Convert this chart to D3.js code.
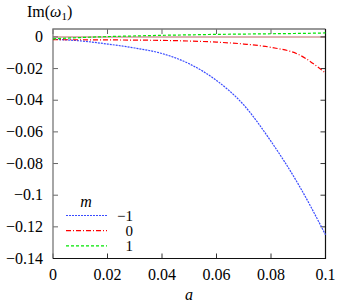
<!DOCTYPE html>
<html>
<head>
<meta charset="utf-8">
<script src="https://cdn.jsdelivr.net/npm/d3@7"></script>
<style>
  body { margin: 0; background: #fff; }
</style>
</head>
<body>
<div id="viz-body"></div>
<script>
// values
var aValues = [0, 0.01, 0.02, 0.03, 0.04, 0.05, 0.06, 0.07, 0.08, 0.09, 0.1];
var imMinus1 = [-0.0015, -0.0025, -0.0045, -0.007, -0.0105, -0.017, -0.0275, -0.043, -0.066, -0.093, -0.125];
var imZero = [-0.0018, -0.0018, -0.0019, -0.002, -0.0022, -0.0026, -0.0033, -0.0045, -0.0066, -0.011, -0.0228];
var imPlus1 = [-0.0012, -0.0004, 0.0002, 0.0006, 0.001, 0.0013, 0.0016, 0.0018, 0.002, 0.0022, 0.0025];
var mLabels = ["\u22121", "0", "1"];
var xTicks = [0, 0.02, 0.04, 0.06, 0.08, 0.1];
var yTicks = [0, -0.02, -0.04, -0.06, -0.08, -0.1, -0.12, -0.14];

var W = 341, H = 303;
var margin = { top: 29, right: 15.5, bottom: 44.5, left: 53 },
    width = W - margin.left - margin.right,
    height = H - margin.top - margin.bottom,
    colors = ["#3a4cff", "#ff0000", "#00e600"],
    dashes = ["2,1", "5,2,1,2", "3,2"],
    serif = "'Liberation Serif', 'Times New Roman', 'DejaVu Serif', serif";

const svg = d3.select("#viz-body").append("svg")
    .attr("width", W)
    .attr("height", H)
    .attr("font-family", serif)
    .style("font-family", serif);

const g = svg.append("g")
    .attr("transform", "translate(" + margin.left + "," + margin.top + ")");

const x = d3.scaleLinear().domain([0, 0.1]).range([0, width]);
const y = d3.scaleLinear().domain([-0.14, 0.005]).range([height, 0]);

var fmt = function(v) {
    if (v === 0) return "0";
    return (v < 0 ? "\u2212" : "") + String(+Math.abs(v).toFixed(2));
};

// zero line
g.append("line")
    .attr("x1", 0).attr("x2", width)
    .attr("y1", y(0)).attr("y2", y(0))
    .attr("stroke", "#d29a9a")
    .attr("stroke-width", 1.5);

// ticks, mirrored on all sides
var tl = 5;
xTicks.forEach(function(v) {
    g.append("line").attr("x1", x(v)).attr("x2", x(v)).attr("y1", height).attr("y2", height - tl)
        .attr("stroke", "#333");
    g.append("line").attr("x1", x(v)).attr("x2", x(v)).attr("y1", 0).attr("y2", tl)
        .attr("stroke", "#666");
    g.append("text").attr("x", x(v)).attr("y", height + 21)
        .attr("text-anchor", "middle").style("font-size", "16px").text(fmt(v));
});
yTicks.forEach(function(v) {
    g.append("line").attr("x1", 0).attr("x2", tl).attr("y1", y(v)).attr("y2", y(v))
        .attr("stroke", "#666");
    g.append("line").attr("x1", width).attr("x2", width - tl).attr("y1", y(v)).attr("y2", y(v))
        .attr("stroke", "#333");
    g.append("text").attr("x", -10).attr("y", y(v) + 5)
        .attr("text-anchor", "end").style("font-size", "16px").text(fmt(v));
});

// frame
g.append("path").attr("d", "M0," + height + "V0H" + width)
    .attr("fill", "none").attr("stroke", "#777").attr("stroke-width", 1.3);
g.append("path").attr("d", "M0," + height + "H" + width + "V0")
    .attr("fill", "none").attr("stroke", "#111").attr("stroke-width", 1.2);

// curves
var series = [imMinus1, imZero, imPlus1];
var line = d3.line()
    .x(function(d, i) { return x(aValues[i]); })
    .y(function(d) { return y(d); })
    .curve(d3.curveMonotoneX);

series.forEach(function(s, i) {
    g.append("path")
        .datum(s)
        .attr("d", line)
        .attr("fill", "none")
        .attr("stroke", colors[i])
        .attr("stroke-width", 1.2)
        .attr("stroke-dasharray", dashes[i]);
});

// legend
var lg = g.append("g");
lg.append("text").attr("x", 33).attr("y", 178)
    .attr("text-anchor", "middle")
    .style("font-size", "16px").style("font-style", "italic").text("m");
mLabels.forEach(function(lab, i) {
    var ly = 186.5 + i * 15.2;
    lg.append("line").attr("x1", 13).attr("x2", 54).attr("y1", ly).attr("y2", ly)
        .attr("stroke", colors[i]).attr("stroke-width", 1.2)
        .attr("stroke-dasharray", dashes[i]);
    lg.append("text").attr("x", 80).attr("y", ly + 5)
        .attr("text-anchor", "end").style("font-size", "15px").text(lab);
});

// axis titles
svg.append("text").attr("x", 189).attr("y", 300)
    .attr("text-anchor", "middle")
    .style("font-size", "16px").style("font-style", "italic").text("a");

var yl = svg.append("text").attr("x", 27).attr("y", 17).style("font-size", "16px");
yl.append("tspan").text("Im(");
yl.append("tspan").style("font-style", "italic").text("\u03c9");
yl.append("tspan").attr("dy", 3).style("font-size", "11px").text("1");
yl.append("tspan").attr("dy", -3).text(")");
</script>
</body>
</html>
